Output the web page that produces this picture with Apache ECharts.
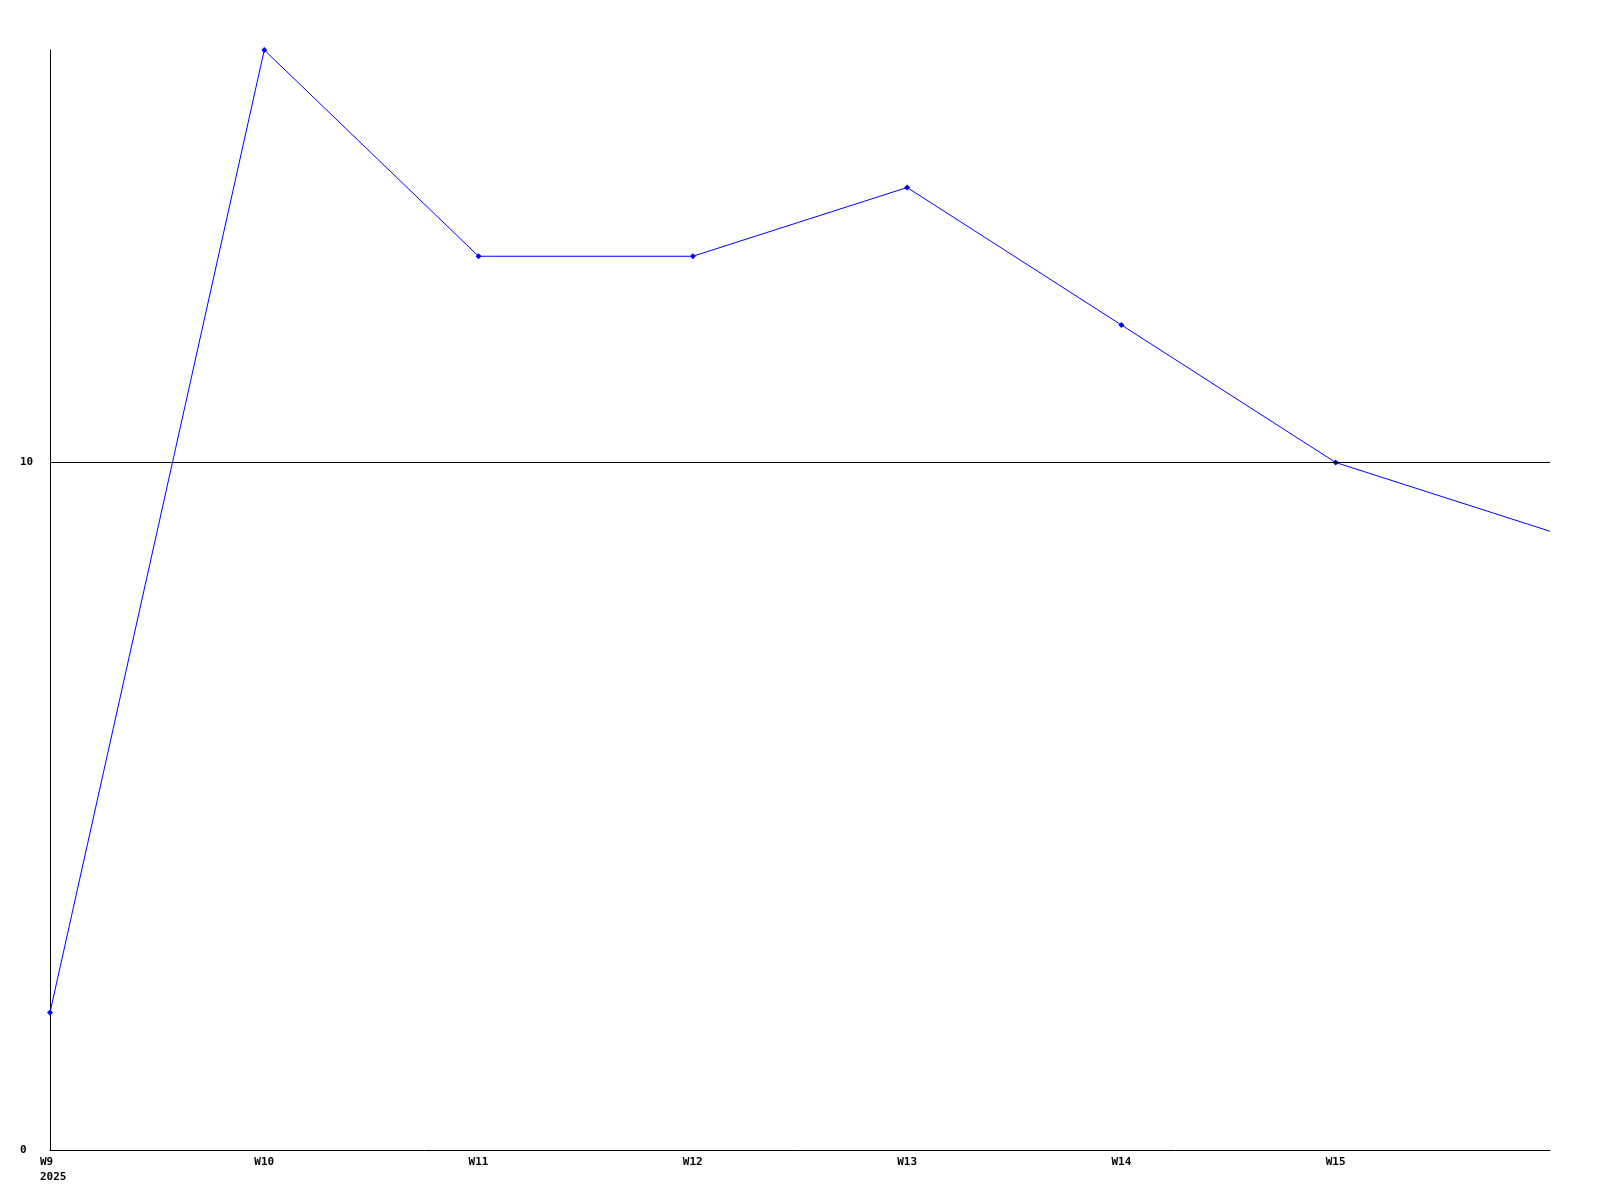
<!DOCTYPE html>
<html>
<head>
<meta charset="utf-8">
<script src="https://cdn.jsdelivr.net/npm/echarts@6/dist/echarts.min.js"></script>
<style>
html,body{margin:0;padding:0;background:#fff;}
#chart{width:1600px;height:1200px;}
</style>
</head>
<body>
<div id="chart"></div>
<script>
const weeks = ['W9', 'W10', 'W11', 'W12', 'W13', 'W14', 'W15', 'W16'];
const values = [2, 16, 13, 13, 14, 12, 10, 9];
const yearLabel = '2025';
const yTicks = [0, 10];

const font = { fontFamily: 'DejaVu Sans Mono', fontWeight: 'bold', fontSize: 11, color: '#000' };

const seriesData = values.map((v, i) => i === values.length - 1 ? { value: v, symbol: 'none' } : v);

const chart = echarts.init(document.getElementById('chart'), null, { renderer: 'canvas' });
chart.setOption({
  animation: false,
  backgroundColor: '#fff',
  grid: [
    { left: 50, right: 50, top: 50, bottom: 50 },
    { left: 40, right: 60, top: 50, bottom: 50 }
  ],
  xAxis: [
    {
      type: 'category', gridIndex: 0, data: weeks, boundaryGap: false,
      axisLine: { lineStyle: { color: '#000', width: 1 } },
      axisTick: { show: false },
      axisLabel: { show: false },
      splitLine: { show: false }
    },
    {
      type: 'category', gridIndex: 1, data: weeks, boundaryGap: false,
      axisLine: { show: false },
      axisTick: { show: false },
      splitLine: { show: false },
      axisLabel: Object.assign({
        interval: 0, align: 'left', margin: 5, lineHeight: 15,
        formatter: (v, i) => i === weeks.length - 1 ? '' : (i === 0 ? v + '\n' + yearLabel : v)
      }, font)
    }
  ],
  yAxis: [
    {
      type: 'value', gridIndex: 0, min: 0, max: 16, interval: 10,
      axisLine: { show: true, lineStyle: { color: '#000', width: 1 } },
      axisTick: { show: false },
      splitLine: { show: false },
      axisLabel: Object.assign({
        align: 'left', margin: 30, padding: [2, 0, 0, 0],
        formatter: v => yTicks.includes(v) ? String(v) : ''
      }, font)
    },
    {
      type: 'value', gridIndex: 1, min: 0, max: 16, show: false
    }
  ],
  series: [{
    type: 'line',
    xAxisIndex: 0, yAxisIndex: 0,
    data: seriesData,
    symbol: 'diamond', symbolSize: 6,
    showSymbol: true,
    itemStyle: { color: '#0000ff' },
    lineStyle: { color: '#0000ff', width: 1 },
    markLine: {
      silent: true, symbol: 'none',
      label: { show: false },
      lineStyle: { color: '#000', type: 'solid', width: 1 },
      data: [{ yAxis: 10 }]
    }
  }]
});
</script>
</body>
</html>
